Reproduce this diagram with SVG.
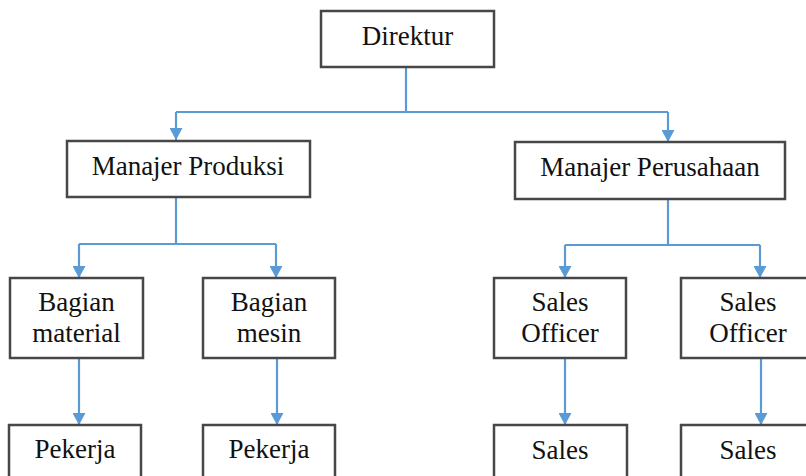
<svg xmlns="http://www.w3.org/2000/svg" width="806" height="476" viewBox="0 0 806 476">
<defs>
<style>
.box{fill:#fff;stroke:#474747;stroke-width:2.5}
.lbl{font-family:"Liberation Serif","Times New Roman",serif;font-size:27px;fill:#111;text-anchor:middle}
.con{fill:none;stroke:#5B9BD5;stroke-width:2.2}
</style>
<marker id="arr" markerUnits="userSpaceOnUse" markerWidth="12" markerHeight="13" refX="12" refY="6.5" orient="auto">
<path d="M0,0 L12,6.5 L0,13 z" fill="#5B9BD5"/>
</marker>
</defs>
<rect width="806" height="476" fill="#fff"/>
<g id="connectors">
<path class="con" d="M406,67 V112"/>
<path class="con" d="M176,112 H668"/>
<path class="con" d="M176,112 V140" marker-end="url(#arr)"/>
<path class="con" d="M668,112 V142" marker-end="url(#arr)"/>
<path class="con" d="M176,197 V244"/>
<path class="con" d="M79,244 H276"/>
<path class="con" d="M79,244 V278" marker-end="url(#arr)"/>
<path class="con" d="M276,244 V278" marker-end="url(#arr)"/>
<path class="con" d="M668,199 V245"/>
<path class="con" d="M565,245 H760"/>
<path class="con" d="M565,245 V278" marker-end="url(#arr)"/>
<path class="con" d="M760,245 V278" marker-end="url(#arr)"/>
<path class="con" d="M79,358 V425" marker-end="url(#arr)"/>
<path class="con" d="M277,358 V425" marker-end="url(#arr)"/>
<path class="con" d="M565,358 V425" marker-end="url(#arr)"/>
<path class="con" d="M761,358 V425" marker-end="url(#arr)"/>
</g>
<g id="direktur">
<rect class="box" x="321" y="11" width="173" height="56"/>
<text class="lbl" x="407.5" y="45">Direktur</text>
</g>
<g id="manajer-produksi">
<rect class="box" x="67" y="141" width="243" height="56"/>
<text class="lbl" x="188" y="175">Manajer Produksi</text>
</g>
<g id="manajer-perusahaan">
<rect class="box" x="515" y="142" width="270" height="57"/>
<text class="lbl" x="650" y="176">Manajer Perusahaan</text>
</g>
<g id="bagian-material">
<rect class="box" x="10" y="278" width="133" height="80"/>
<text class="lbl" x="76.5" y="311">Bagian</text>
<text class="lbl" x="76.5" y="342">material</text>
</g>
<g id="bagian-mesin">
<rect class="box" x="203" y="278" width="132" height="80"/>
<text class="lbl" x="269" y="311">Bagian</text>
<text class="lbl" x="269" y="342">mesin</text>
</g>
<g id="sales-officer-1">
<rect class="box" x="494" y="278" width="132" height="80"/>
<text class="lbl" x="560" y="311">Sales</text>
<text class="lbl" x="560" y="342">Officer</text>
</g>
<g id="sales-officer-2">
<rect class="box" x="681" y="278" width="134" height="80"/>
<text class="lbl" x="748" y="311">Sales</text>
<text class="lbl" x="748" y="342">Officer</text>
</g>
<g id="pekerja-1">
<rect class="box" x="9" y="425" width="132" height="80"/>
<text class="lbl" x="75" y="458">Pekerja</text>
</g>
<g id="pekerja-2">
<rect class="box" x="203" y="425" width="132" height="80"/>
<text class="lbl" x="269" y="458">Pekerja</text>
</g>
<g id="sales-1">
<rect class="box" x="494" y="425" width="133" height="80"/>
<text class="lbl" x="560" y="459">Sales</text>
</g>
<g id="sales-2">
<rect class="box" x="681" y="425" width="134" height="80"/>
<text class="lbl" x="748" y="459">Sales</text>
</g>
</svg>
